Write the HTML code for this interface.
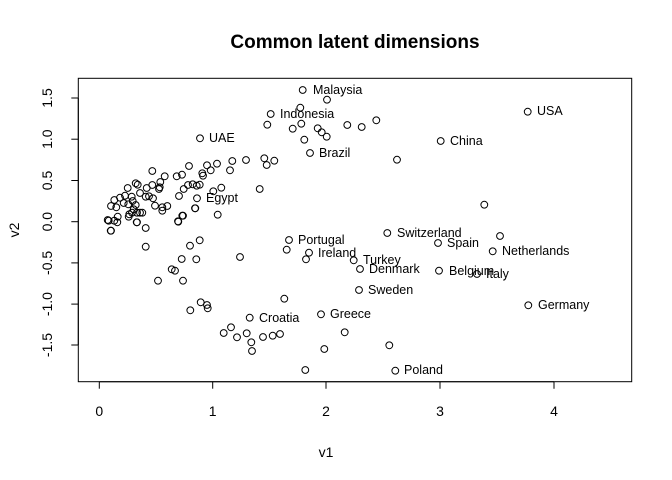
<!DOCTYPE html>
<html><head><meta charset="utf-8"><style>
html,body{margin:0;padding:0;background:#fff}
svg{display:block;font-family:"Liberation Sans",Arial,sans-serif}
</style></head><body>
<svg width="672" height="480" viewBox="0 0 672 480" xmlns="http://www.w3.org/2000/svg">
<rect width="672" height="480" fill="#fff"/>
<text x="355" y="48" text-anchor="middle" font-size="19" font-weight="bold">Common latent dimensions</text>
<rect x="78.3" y="78.3" width="553.4" height="303.4" fill="none" stroke="#000" stroke-width="1"/>
<g stroke="#000" stroke-width="1">
<line x1="99.3" y1="381.7" x2="554" y2="381.7"/>
<line x1="99.3" y1="381.7" x2="99.3" y2="388.7"/>
<line x1="212.7" y1="381.7" x2="212.7" y2="388.7"/>
<line x1="326" y1="381.7" x2="326" y2="388.7"/>
<line x1="440" y1="381.7" x2="440" y2="388.7"/>
<line x1="554" y1="381.7" x2="554" y2="388.7"/>
<line x1="78.3" y1="98" x2="78.3" y2="345"/>
<line x1="71.3" y1="98" x2="78.3" y2="98"/>
<line x1="71.3" y1="139.2" x2="78.3" y2="139.2"/>
<line x1="71.3" y1="180.5" x2="78.3" y2="180.5"/>
<line x1="71.3" y1="221.7" x2="78.3" y2="221.7"/>
<line x1="71.3" y1="262.9" x2="78.3" y2="262.9"/>
<line x1="71.3" y1="304.1" x2="78.3" y2="304.1"/>
<line x1="71.3" y1="345" x2="78.3" y2="345"/>
</g>
<g font-size="14" text-anchor="middle">
<text x="99.3" y="416">0</text><text x="212.7" y="416">1</text><text x="326" y="416">2</text><text x="440" y="416">3</text><text x="554" y="416">4</text>
<text x="326" y="457">v1</text>
<text transform="translate(52,98) rotate(-90)">1.5</text>
<text transform="translate(52,139.2) rotate(-90)">1.0</text>
<text transform="translate(52,180.5) rotate(-90)">0.5</text>
<text transform="translate(52,221.7) rotate(-90)">0.0</text>
<text transform="translate(52,262.9) rotate(-90)">-0.5</text>
<text transform="translate(52,304.1) rotate(-90)">-1.0</text>
<text transform="translate(52,345) rotate(-90)">-1.5</text>
<text transform="translate(19,230) rotate(-90)">v2</text>
</g>
<g fill="none" stroke="#000" stroke-width="1">
<circle cx="527.7" cy="111.7" r="3.4"/><circle cx="440.7" cy="141" r="3.4"/><circle cx="347.3" cy="125" r="3.4"/><circle cx="361.7" cy="127" r="3.4"/><circle cx="376.3" cy="120.3" r="3.4"/><circle cx="397" cy="159.7" r="3.4"/><circle cx="484.3" cy="204.7" r="3.4"/><circle cx="387.3" cy="233" r="3.4"/><circle cx="438" cy="243" r="3.4"/><circle cx="500" cy="236" r="3.4"/><circle cx="492.7" cy="251.3" r="3.4"/><circle cx="353.7" cy="260.3" r="3.4"/><circle cx="360" cy="269" r="3.4"/><circle cx="439" cy="270.7" r="3.4"/><circle cx="477" cy="274" r="3.4"/><circle cx="359" cy="290" r="3.4"/><circle cx="528.3" cy="305.3" r="3.4"/><circle cx="344.7" cy="332.3" r="3.4"/><circle cx="389.3" cy="345.3" r="3.4"/><circle cx="395.3" cy="370.7" r="3.4"/>
<circle cx="289" cy="240" r="3.4"/><circle cx="286.7" cy="249.7" r="3.4"/><circle cx="309" cy="252.7" r="3.4"/><circle cx="306" cy="259.3" r="3.4"/><circle cx="240" cy="257" r="3.4"/><circle cx="199.7" cy="240.3" r="3.4"/><circle cx="190" cy="245.7" r="3.4"/><circle cx="181.7" cy="259" r="3.4"/><circle cx="196.3" cy="259.3" r="3.4"/><circle cx="171.7" cy="269.3" r="3.4"/><circle cx="175" cy="270.7" r="3.4"/><circle cx="158" cy="280.7" r="3.4"/><circle cx="183" cy="280.7" r="3.4"/><circle cx="145.7" cy="246.7" r="3.4"/><circle cx="145.7" cy="228" r="3.4"/><circle cx="110.7" cy="230.7" r="3.4"/><circle cx="284.3" cy="298.7" r="3.4"/><circle cx="200.7" cy="302.3" r="3.4"/><circle cx="207" cy="305" r="3.4"/><circle cx="207.7" cy="308.3" r="3.4"/><circle cx="190.3" cy="310.3" r="3.4"/><circle cx="249.7" cy="317.7" r="3.4"/><circle cx="321" cy="314.3" r="3.4"/><circle cx="231" cy="327.3" r="3.4"/><circle cx="223.7" cy="333" r="3.4"/><circle cx="237" cy="337.3" r="3.4"/><circle cx="246.7" cy="333.3" r="3.4"/><circle cx="251.3" cy="342.3" r="3.4"/><circle cx="252" cy="351" r="3.4"/><circle cx="263" cy="337" r="3.4"/><circle cx="272.7" cy="335.7" r="3.4"/><circle cx="280" cy="334" r="3.4"/><circle cx="324.3" cy="349" r="3.4"/><circle cx="305.3" cy="370" r="3.4"/><circle cx="217.7" cy="214.7" r="3.4"/><circle cx="137" cy="222.3" r="3.4"/><circle cx="183" cy="215.7" r="3.4"/><circle cx="178" cy="221.3" r="3.4"/><circle cx="195" cy="208.3" r="3.4"/>
<circle cx="302.7" cy="90" r="3.4"/><circle cx="327" cy="99.7" r="3.4"/><circle cx="300.3" cy="107.7" r="3.4"/><circle cx="270.7" cy="114" r="3.4"/><circle cx="267.3" cy="124.7" r="3.4"/><circle cx="301.3" cy="123.7" r="3.4"/><circle cx="292.7" cy="128.7" r="3.4"/><circle cx="317.7" cy="128.3" r="3.4"/><circle cx="321.7" cy="132.3" r="3.4"/><circle cx="326.7" cy="136.7" r="3.4"/><circle cx="304.3" cy="139.7" r="3.4"/><circle cx="310" cy="153" r="3.4"/><circle cx="200" cy="138.3" r="3.4"/><circle cx="264.3" cy="158.3" r="3.4"/><circle cx="266.7" cy="165" r="3.4"/><circle cx="274.3" cy="160.7" r="3.4"/><circle cx="246" cy="160" r="3.4"/><circle cx="232.3" cy="161" r="3.4"/><circle cx="230" cy="170.3" r="3.4"/><circle cx="217" cy="163.7" r="3.4"/><circle cx="207" cy="165.3" r="3.4"/><circle cx="210.7" cy="170.3" r="3.4"/><circle cx="202.3" cy="173.3" r="3.4"/><circle cx="203" cy="175.7" r="3.4"/><circle cx="189" cy="166" r="3.4"/><circle cx="182" cy="174.7" r="3.4"/><circle cx="176.7" cy="176.3" r="3.4"/><circle cx="164.7" cy="176.3" r="3.4"/><circle cx="160.3" cy="182" r="3.4"/><circle cx="152.3" cy="171" r="3.4"/><circle cx="152.3" cy="185" r="3.4"/><circle cx="159" cy="189" r="3.4"/><circle cx="159.7" cy="187.3" r="3.4"/><circle cx="146.7" cy="188" r="3.4"/><circle cx="135.7" cy="183.3" r="3.4"/><circle cx="137.7" cy="184.7" r="3.4"/><circle cx="127.7" cy="188" r="3.4"/><circle cx="140" cy="193" r="3.4"/><circle cx="188" cy="185" r="3.4"/><circle cx="192.7" cy="184.3" r="3.4"/><circle cx="196.7" cy="185.7" r="3.4"/><circle cx="199.7" cy="184.7" r="3.4"/><circle cx="183.7" cy="189" r="3.4"/><circle cx="213.3" cy="191.3" r="3.4"/><circle cx="221.3" cy="187.7" r="3.4"/><circle cx="259.7" cy="189" r="3.4"/><circle cx="197" cy="198.3" r="3.4"/><circle cx="179" cy="196" r="3.4"/><circle cx="167.3" cy="206" r="3.4"/><circle cx="195.3" cy="208.3" r="3.4"/><circle cx="182.3" cy="215.7" r="3.4"/><circle cx="178.3" cy="221.7" r="3.4"/><circle cx="145.7" cy="196.7" r="3.4"/><circle cx="153" cy="198.3" r="3.4"/><circle cx="149" cy="196.3" r="3.4"/><circle cx="155" cy="205.7" r="3.4"/><circle cx="162.3" cy="207.3" r="3.4"/><circle cx="162.3" cy="210.7" r="3.4"/><circle cx="114.3" cy="200" r="3.4"/><circle cx="120" cy="197.7" r="3.4"/><circle cx="125" cy="195.7" r="3.4"/><circle cx="131.7" cy="196.7" r="3.4"/><circle cx="132.7" cy="201" r="3.4"/><circle cx="123.7" cy="203" r="3.4"/><circle cx="111" cy="206" r="3.4"/><circle cx="116.3" cy="207.3" r="3.4"/><circle cx="128.3" cy="204.3" r="3.4"/><circle cx="135.7" cy="205" r="3.4"/><circle cx="133.7" cy="209.3" r="3.4"/><circle cx="132" cy="212.7" r="3.4"/><circle cx="137" cy="212.7" r="3.4"/><circle cx="140" cy="212.7" r="3.4"/><circle cx="142.3" cy="212.7" r="3.4"/><circle cx="129.3" cy="214.3" r="3.4"/><circle cx="128.7" cy="216.7" r="3.4"/><circle cx="136.7" cy="222.3" r="3.4"/><circle cx="117.7" cy="216.7" r="3.4"/><circle cx="114.3" cy="220.7" r="3.4"/><circle cx="107.7" cy="220" r="3.4"/><circle cx="108.7" cy="220.7" r="3.4"/><circle cx="117.3" cy="222.3" r="3.4"/><circle cx="111" cy="230.7" r="3.4"/>
</g>
<g font-size="12.5">
<text x="313" y="94">Malaysia</text>
<text x="280" y="118">Indonesia</text>
<text x="209" y="142">UAE</text>
<text x="319" y="157">Brazil</text>
<text x="206" y="202">Egypt</text>
<text x="537" y="115">USA</text>
<text x="450" y="145">China</text>
<text x="397" y="237">Switzerland</text>
<text x="447" y="247">Spain</text>
<text x="502" y="255">Netherlands</text>
<text x="298" y="244">Portugal</text>
<text x="318" y="257">Ireland</text>
<text x="363" y="264">Turkey</text>
<text x="369" y="273">Denmark</text>
<text x="449" y="275">Belgium</text>
<text x="486" y="278">Italy</text>
<text x="368" y="294">Sweden</text>
<text x="538" y="309">Germany</text>
<text x="330" y="318">Greece</text>
<text x="259" y="322">Croatia</text>
<text x="404" y="374">Poland</text>
</g>
</svg>
</body></html>
